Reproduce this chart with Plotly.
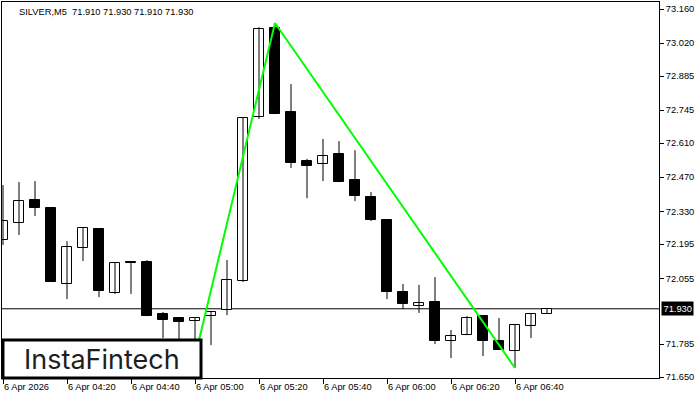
import plotly.graph_objects as go

# ---- data ----
bar_index = list(range(35))  # 5-minute bars from 6 Apr 2026 04:00
opens  = [72.212, 72.282, 72.376, 72.343, 72.032, 72.179, 72.257, 71.995, 72.122, 72.122,
          71.909, 71.892, 71.880, 71.900, 71.925, 72.044, 72.717, 73.082, 72.737, 72.536,
          72.524, 72.565, 72.458, 72.389, 72.294, 71.999, 71.941, 71.958, 71.798, 71.822,
          71.900, 71.798, 71.757, 71.859, 71.910]
highs  = [72.438, 72.450, 72.454, 72.343, 72.208, 72.261, 72.257, 72.118, 72.122, 72.130,
          71.917, 71.892, 71.892, 71.917, 72.130, 72.713, 73.086, 73.103, 72.852, 72.545,
          72.627, 72.618, 72.581, 72.409, 72.294, 72.032, 72.028, 72.060, 71.843, 71.900,
          71.900, 71.892, 71.867, 71.909, 71.930]
lows   = [72.192, 72.233, 72.311, 72.040, 71.970, 72.126, 71.978, 71.991, 71.991, 71.900,
          71.810, 71.802, 71.732, 71.781, 71.904, 72.040, 72.709, 72.729, 72.508, 72.384,
          72.454, 72.450, 72.372, 72.290, 71.970, 71.929, 71.913, 71.785, 71.728, 71.822,
          71.736, 71.761, 71.687, 71.810, 71.910]
closes = [72.290, 72.372, 72.343, 72.040, 72.183, 72.261, 72.003, 72.118, 72.116, 71.900,
          71.884, 71.876, 71.892, 71.917, 72.048, 72.713, 73.078, 72.729, 72.528, 72.516,
          72.557, 72.450, 72.393, 72.294, 71.999, 71.950, 71.954, 71.798, 71.818, 71.892,
          71.798, 71.761, 71.863, 71.909, 71.930]

pattern_x = [12, 17, 32]
pattern_y = [71.732, 73.103, 71.687]

current_price = 71.930

x_tick_vals = [0, 4, 8, 12, 16, 20, 24, 28, 32]
x_tick_text = ["6 Apr 2026", "6 Apr 04:20", "6 Apr 04:40", "6 Apr 05:00", "6 Apr 05:20",
               "6 Apr 05:40", "6 Apr 06:00", "6 Apr 06:20", "6 Apr 06:40"]
y_tick_vals = [73.160, 73.020, 72.885, 72.745, 72.610, 72.470, 72.330, 72.195, 72.055, 71.785, 71.650]
y_tick_text = ["%.3f" % v for v in y_tick_vals]

title_text = "SILVER,M5 &nbsp;71.910 71.930 71.910 71.930"
logo_text = "InstaFintech"

# ---- figure ----
FONT = "Liberation Sans, Arial, sans-serif"
FS = 9.3

wx, wy = [], []
for i, h, l in zip(bar_index, highs, lows):
    wx += [i, i, None]
    wy += [l, h, None]

base = [min(o, c) for o, c in zip(opens, closes)]
height = [max(abs(c - o), 0.0015) for o, c in zip(opens, closes)]
fills = ["#ffffff" if c >= o else "#000000" for o, c in zip(opens, closes)]

fig = go.Figure()
fig.add_trace(go.Scatter(x=wx, y=wy, mode="lines", line=dict(color="#000000", width=1),
                         hoverinfo="skip", showlegend=False))
fig.add_trace(go.Bar(x=bar_index, y=height, base=base, width=0.625,
                     marker=dict(color=fills, line=dict(color="#000000", width=1)),
                     hoverinfo="skip", showlegend=False))
fig.add_trace(go.Scatter(x=pattern_x, y=pattern_y, mode="lines",
                         line=dict(color="#00ff00", width=2),
                         hoverinfo="skip", showlegend=False))

fig.add_shape(type="line", xref="paper", x0=0, x1=1, yref="y", y0=current_price, y1=current_price,
              line=dict(color="#000000", width=1), layer="below")
# logo box
fig.add_shape(type="rect", xref="paper", yref="paper", x0=0.0015, x1=0.3029, y0=0.0, y1=0.101,
              fillcolor="#ffffff", line=dict(color="#000000", width=3), layer="above")
fig.add_annotation(xref="paper", yref="paper", x=0.152, y=0.05, text=logo_text, showarrow=False,
                   font=dict(family="Inter, Lato, sans-serif", size=27, color="#1e1e1e"),
                   xanchor="center", yanchor="middle")
# title
fig.add_annotation(xref="paper", yref="paper", x=0.0228, y=0.973, text=title_text, showarrow=False,
                   font=dict(family=FONT, size=FS, color="#000000"), xanchor="left", yanchor="middle")
# current price label
fig.add_annotation(xref="paper", yref="y", x=1, xshift=2, y=current_price, text="71.930",
                   showarrow=False, xanchor="left", yanchor="middle", bgcolor="#000000",
                   font=dict(family=FONT, size=FS, color="#ffffff"), borderpad=1.5)

fig.update_layout(
    width=700, height=400,
    margin=dict(l=2, r=41, t=2, b=22, autoexpand=False),
    paper_bgcolor="#ffffff", plot_bgcolor="#ffffff",
    showlegend=False, hovermode=False, bargap=0,
    font=dict(family=FONT, size=FS, color="#000000"),
)
fig.update_xaxes(range=[-0.0625, 41], showgrid=False, zeroline=False, automargin=False,
                 showline=True, linecolor="#000000", linewidth=1, mirror=True,
                 tickmode="array", tickvals=x_tick_vals, ticktext=x_tick_text,
                 ticks="outside", ticklen=5, tickcolor="#000000",
                 ticklabelposition="outside right",
                 tickfont=dict(family=FONT, size=FS, color="#000000"))
fig.update_yaxes(range=[71.646, 73.189], side="right", showgrid=False, zeroline=False, automargin=False,
                 showline=True, linecolor="#000000", linewidth=1, mirror=True,
                 tickmode="array", tickvals=y_tick_vals, ticktext=y_tick_text,
                 ticks="outside", ticklen=4, tickcolor="#000000",
                 tickfont=dict(family=FONT, size=FS, color="#000000"))

fig.write_html("out.html", config={"displayModeBar": False},
               post_script="document.body.style.margin='0';document.body.style.overflow='hidden';")
